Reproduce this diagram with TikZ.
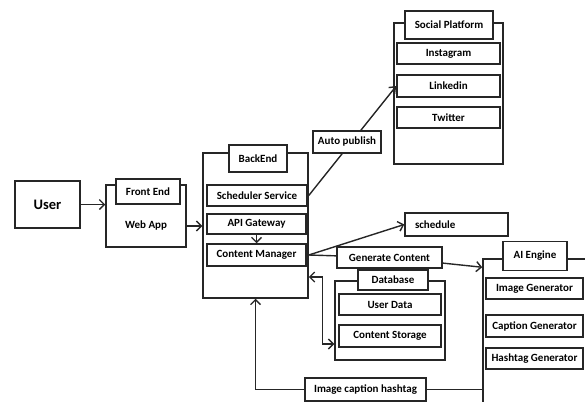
\documentclass[tikz,border=0pt]{standalone}
\usepackage{fontspec}
\setmainfont{Carlito}
\usetikzlibrary{arrows.meta}
\tikzset{
  cbox/.style={rectangle, draw=black!85, line width=1.5pt, fill=white, inner sep=0pt},
  cpart/.style={cbox, font=\bfseries\fontsize{11}{13}\selectfont},
  ctag/.style={cpart},
  cline/.style={line width=1.4pt, black!85},
  carrow/.style={cline, -{Straight Barb[length=5pt, width=10pt]}},
  cboth/.style={cline, {Straight Barb[length=5pt, width=10pt]}-{Straight Barb[length=5pt, width=10pt]}},
}
\begin{document}
\begin{tikzpicture}[x=1pt, y=-1pt]
  \useasboundingbox (0,0) rectangle (585,401);
  \clip (0,0) rectangle (585,401);
  % user and front end
  \node[cpart, minimum width=65pt, minimum height=47pt, font=\bfseries\fontsize{14.5}{16}\selectfont] (user) at (47.5,204.5) {User};
  \node[cbox, minimum width=80pt, minimum height=62pt] (fe) at (146,216) {};
  \node[ctag, minimum width=64pt, minimum height=25pt] (fetitle) at (148,191.5) {Front End};
  \node[font=\bfseries\fontsize{11}{13}\selectfont] (webapp) at (146,226) {Web App};
  % back end
  \node[cbox, minimum width=105pt, minimum height=145pt] (be) at (255.5,225.5) {};
  \node[ctag, minimum width=58pt, minimum height=27pt] (betitle) at (258,158.5) {BackEnd};
  \node[cpart, minimum width=100pt, minimum height=21pt] (sched) at (257,195.5) {Scheduler Service};
  \node[cpart, minimum width=99pt, minimum height=20pt] (api) at (256.5,224) {API Gateway};
  \node[cpart, minimum width=99pt, minimum height=22pt] (cm) at (256.5,255) {Content Manager};
  % social platform
  \node[cbox, minimum width=109pt, minimum height=141pt] (social) at (448.5,93.5) {};
  \node[ctag, minimum width=88pt, minimum height=28pt] (soctitle) at (449,25) {Social Platform};
  \node[cpart, minimum width=103pt, minimum height=21pt] (insta) at (448.5,53.5) {Instagram};
  \node[cpart, minimum width=103pt, minimum height=22pt] (linkedin) at (448.5,86) {Linkedin};
  \node[cpart, minimum width=103pt, minimum height=21pt] (twitter) at (448.5,117.5) {Twitter};
  % schedule, generate, database
  \node[cpart, text width=83pt, align=left, inner xsep=10pt, minimum height=23pt] (schedule) at (456.5,224.5) {schedule};
  \node[cpart, minimum width=105pt, minimum height=21pt] (gencontent) at (389.5,257.5) {Generate Content};
  \node[cbox, minimum width=110pt, minimum height=79pt] (db) at (390,320.5) {};
  \node[ctag, minimum width=70pt, minimum height=20pt] (dbtitle) at (393,280) {Database};
  \node[cpart, minimum width=102pt, minimum height=21pt] (userdata) at (390,304.5) {User Data};
  \node[cpart, minimum width=102pt, minimum height=22pt] (storage) at (390,336) {Content Storage};
  % ai engine
  \node[cbox, minimum width=127pt, minimum height=171pt] (ai) at (546.5,344.5) {};
  \node[ctag, minimum width=64pt, minimum height=29pt] (aititle) at (535,256) {AI Engine};
  \node[cpart, minimum width=97pt, minimum height=21pt] (imggen) at (534.5,288.5) {Image Generator};
  \node[cpart, minimum width=97pt, minimum height=22pt] (capgen) at (534.5,326) {Caption Generator};
  \node[cpart, minimum width=97pt, minimum height=21pt] (hashgen) at (534.5,358.5) {Hashtag Generator};
  \node[cpart, minimum width=121pt, minimum height=23pt] (ich) at (365.5,389.5) {Image caption hashtag};
  % connectors
  \draw[carrow] (user.east) -- (user.east -| fe.west);
  \draw[carrow] (fe.east |- webapp) -- (be.west |- webapp);
  \draw[carrow] (api) -- (cm);
  \draw[carrow] (sched.east -| be.east) -- (linkedin.west);
  \node[ctag, minimum width=68pt, minimum height=22pt] (autopub) at (347,142) {Auto publish};
  \draw[carrow] (cm.east -| be.east) -- (schedule.west);
  \draw[carrow] (cm.east -| be.east) -- (gencontent) -- ([yshift=-9pt]ai.north west);
  \draw[cboth] ([yshift=-51.5pt]be.east) -- ++(14,0) |- ([yshift=-8pt]storage.west -| db.west);
  \draw[cline] (ai.west |- ich.east) -- (ich.east);
  \draw[carrow] (ich.west) -| (be.south);
\end{tikzpicture}
\end{document}
